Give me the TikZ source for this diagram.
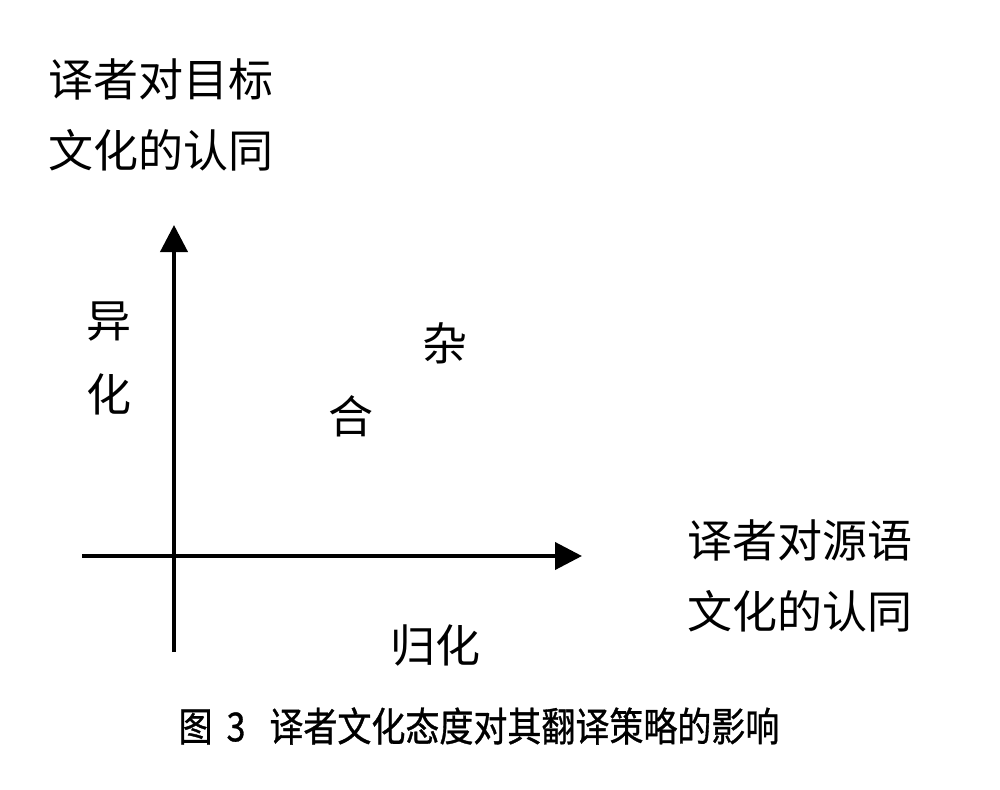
\documentclass[tikz,border=0pt]{standalone}
\usepackage{fontspec}
\setmainfont{Noto Sans CJK SC}
\newfontfamily\capfont[FakeStretch=0.85,FakeBold=0.8]{Noto Sans CJK SC}
\usetikzlibrary{arrows.meta}
\begin{document}
\begin{tikzpicture}[x=1pt,y=-1pt,
  axis/.style={line width=4pt,-{Triangle[length=27pt,width=27pt]}},
  lbl/.style={inner sep=0pt,font=\fontsize{45}{71}\selectfont,align=center},
  captext/.style={inner sep=0pt,font=\capfont\fontsize{40}{48}\selectfont}]
\useasboundingbox[fill=white] (0,0) rectangle (1000,789);
% axes
\coordinate (hstart) at (82,556);
\coordinate (hend) at (582,556);
\coordinate (vstart) at (174,652);
\coordinate (vend) at (174,225);
\draw[axis] (hstart) -- (hend);
\draw[axis] (vstart) -- (vend);
% labels
\node[lbl] (ytitle) at (161,114.5) {译者对目标\\文化的认同};
\node[lbl] (xtitle) at (800,575.5) {译者对源语\\文化的认同};
\node[lbl] (yi) at (109,322) {异};
\node[lbl] (hua) at (109,394) {化};
\node[lbl] (za) at (445,343) {杂};
\node[lbl] (he) at (351,416) {合};
\node[lbl] (guihua) at (435,645) {归化};
\node[captext] (caption) at (479,726) {图\hspace{0.35em}3\hspace{0.6em}译者文化态度对其翻译策略的影响};
\end{tikzpicture}
\end{document}
